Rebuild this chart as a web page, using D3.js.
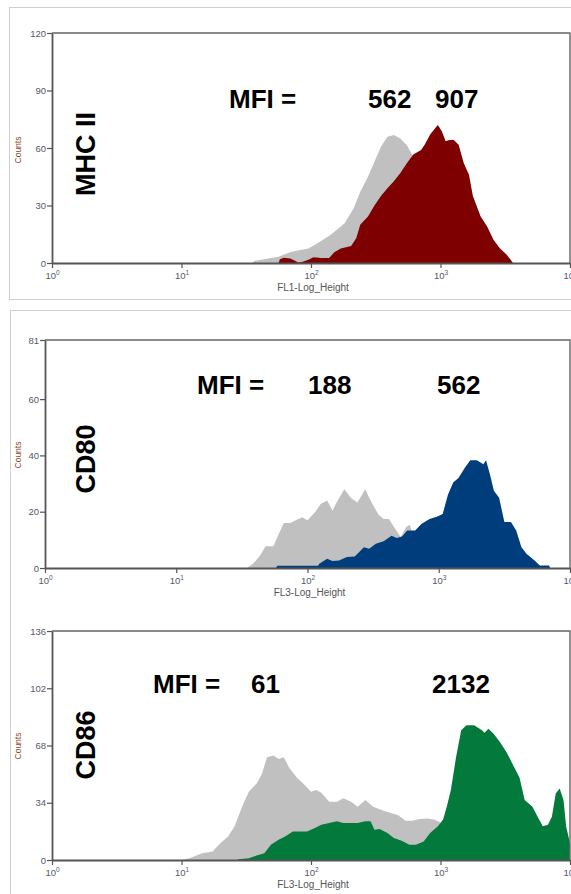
<!DOCTYPE html>
<html>
<head>
<meta charset="utf-8">
<script src="https://cdn.jsdelivr.net/npm/d3@7"></script>
<style>
  body { margin: 0; background: #fff; }
  svg { display: block; }
</style>
</head>
<body>
<svg id="chart" width="571" height="894"></svg>
<script>
// ---- data: histogram outlines, x in decades (log10 of channel), y in counts ----
const xTickValues = [1, 10, 100, 1000, 10000];

// MHC II
const mhcTicks = [0, 30, 60, 90, 120];
const mhcIsoDec = [1.55, 1.56, 1.75, 1.85, 1.98, 2.05, 2.15, 2.26, 2.33, 2.38, 2.44, 2.49, 2.54, 2.59, 2.64, 2.69, 2.74, 2.79, 2.84, 2.90, 2.95, 3.00, 3.05, 3.10, 3.20, 3.30, 3.40];
const mhcIsoCnt = [0, 1, 3.3, 5.9, 7.6, 10.3, 14.6, 20.8, 28.7, 37, 45, 52.8, 60.7, 65.9, 66.8, 65, 61.5, 55.5, 48, 38, 28, 20, 14, 9, 4, 1.5, 0];
const mhcDec = [1.75, 1.76, 1.79, 1.84, 1.88, 1.90, 1.93, 1.98, 2.02, 2.08, 2.14, 2.18, 2.23, 2.31, 2.35, 2.38, 2.44, 2.49, 2.54, 2.59, 2.64, 2.69, 2.74, 2.79, 2.85, 2.88, 2.92, 2.96, 2.98, 3.01, 3.04, 3.06, 3.10, 3.14, 3.18, 3.22, 3.25, 3.31, 3.36, 3.41, 3.46, 3.51, 3.56];
const mhcCnt = [0, 2, 2.8, 2.4, 1, 0.3, 0.5, 1.7, 3, 2.6, 2.6, 5.6, 7.6, 8.9, 13, 20, 24.3, 30, 35, 39, 42.6, 47, 52, 56.6, 59, 62, 67, 70.5, 72, 68.7, 63.5, 64, 64.3, 61.7, 52, 46, 35, 24.3, 19, 12, 7.6, 4.5, 0];

// CD80
const cd80Ticks = [0, 20, 40, 60, 81];
const cd80IsoDec = [1.54, 1.585, 1.64, 1.68, 1.74, 1.78, 1.82, 1.87, 1.91, 1.96, 2.00, 2.06, 2.10, 2.15, 2.19, 2.23, 2.28, 2.33, 2.38, 2.44, 2.48, 2.54, 2.58, 2.62, 2.66, 2.71, 2.75, 2.78, 2.80, 2.85, 2.90, 2.95, 3.00, 3.10, 3.15];
const cd80IsoCnt = [0, 1.5, 4.5, 7.7, 7.7, 12, 16, 16, 17, 18, 17, 20, 22.7, 24, 20.4, 24, 28, 25, 23.3, 28, 24, 19, 17.4, 17.4, 14.5, 11, 14.5, 15.4, 12, 9, 6, 4, 2, 0.5, 0];
const cd80Dec = [1.76, 1.77, 2.08, 2.09, 2.15, 2.19, 2.24, 2.30, 2.36, 2.43, 2.47, 2.52, 2.58, 2.64, 2.68, 2.72, 2.76, 2.82, 2.87, 2.93, 2.99, 3.03, 3.07, 3.11, 3.15, 3.20, 3.24, 3.29, 3.34, 3.36, 3.39, 3.42, 3.46, 3.50, 3.55, 3.59, 3.63, 3.67, 3.73, 3.77, 3.84, 3.85];
const cd80Cnt = [0, 0.8, 0.8, 1.5, 3.3, 2.5, 2.7, 3.9, 4.1, 7.4, 6.8, 8.6, 9.5, 11.5, 10.7, 11.2, 13.3, 13.3, 15.7, 17.4, 18.3, 19.2, 26, 30.4, 32, 35.7, 38.3, 38.3, 36.9, 38.3, 33.3, 27.4, 25, 16.3, 16.3, 13.3, 7.4, 5, 2.7, 0.9, 0.9, 0];

// CD86
const cd86Ticks = [0, 34, 68, 102, 136];
const cd86IsoDec = [1.00, 1.06, 1.16, 1.24, 1.30, 1.36, 1.41, 1.47, 1.52, 1.58, 1.62, 1.66, 1.71, 1.75, 1.79, 1.83, 1.89, 1.94, 2.00, 2.04, 2.08, 2.14, 2.20, 2.25, 2.31, 2.36, 2.42, 2.48, 2.55, 2.62, 2.67, 2.73, 2.78, 2.84, 2.90, 2.95, 2.99, 3.05, 3.10, 3.20, 3.30, 3.50, 3.70, 3.80, 3.90, 3.98];
const cd86IsoCnt = [0, 1, 4, 5, 10, 14, 20, 32, 40.5, 45.5, 51, 61, 62, 60, 61, 55, 49, 45.5, 40.5, 41.5, 40, 34.6, 34.6, 36.6, 34.6, 31.6, 35.6, 31.6, 29.6, 27.7, 26.7, 23.3, 23.3, 24.3, 24.7, 24, 22.7, 18, 14, 10, 8, 5, 3, 2, 1, 0];
const cd86Dec = [1.43, 1.44, 1.52, 1.58, 1.64, 1.69, 1.75, 1.80, 1.86, 1.92, 1.97, 2.03, 2.08, 2.14, 2.20, 2.25, 2.31, 2.36, 2.42, 2.46, 2.49, 2.53, 2.59, 2.64, 2.70, 2.76, 2.81, 2.87, 2.92, 2.98, 3.02, 3.05, 3.08, 3.12, 3.16, 3.20, 3.26, 3.32, 3.34, 3.37, 3.41, 3.46, 3.51, 3.57, 3.61, 3.65, 3.71, 3.75, 3.79, 3.83, 3.86, 3.89, 3.92, 3.95, 3.97, 4.00, 4.001];
const cd86Cnt = [0, 0.5, 1, 2.6, 4, 9, 12, 14, 17, 17, 17, 19, 21, 22, 23, 22, 22, 22, 23, 23, 18, 18.4, 16, 13, 11.5, 9, 9, 11, 16, 20, 24, 32, 41.5, 61, 77, 80, 80, 77, 75.5, 78, 75, 70, 64, 55, 49, 35.6, 31.6, 25.7, 20, 21, 25.7, 39.5, 42.5, 35.6, 20, 10, 0];

const panels = [
  { label: "MHC II", axisTitle: "FL1-Log_Height", ticks: mhcTicks, max: 120,
    iso: [mhcIsoDec, mhcIsoCnt], stain: [mhcDec, mhcCnt], color: "#7f0000",
    mfi: ["MFI =", "562", "907"],
    box: { x0: 52, x1: 570, y0: 33, y1: 263 },
    mfiX: [229, 368, 435], mfiY: 108, labelY: 154, countsY: 150 },
  { label: "CD80", axisTitle: "FL3-Log_Height", ticks: cd80Ticks, max: 81,
    iso: [cd80IsoDec, cd80IsoCnt], stain: [cd80Dec, cd80Cnt], color: "#003d7c",
    mfi: ["MFI =", "188", "562"],
    box: { x0: 45, x1: 570, y0: 340, y1: 568 },
    mfiX: [197, 308, 437], mfiY: 394, labelY: 459, countsY: 455 },
  { label: "CD86", axisTitle: "FL3-Log_Height", ticks: cd86Ticks, max: 136,
    iso: [cd86IsoDec, cd86IsoCnt], stain: [cd86Dec, cd86Cnt], color: "#037a3c",
    mfi: ["MFI =", "61", "2132"],
    box: { x0: 52, x1: 570, y0: 631, y1: 860 },
    mfiX: [153, 251, 432], mfiY: 693, labelY: 745, countsY: 746 }
];

const svg = d3.select("#chart");

// light grey panel frames
svg.append("rect").attr("x", 9.5).attr("y", 7.5).attr("width", 580).attr("height", 292)
  .attr("fill", "none").attr("stroke", "#cfcfcf").attr("stroke-width", 1);
svg.append("rect").attr("x", 10.5).attr("y", 310.5).attr("width", 580).attr("height", 600)
  .attr("fill", "none").attr("stroke", "#cfcfcf").attr("stroke-width", 1);

const tickColor = "#55586a";

panels.forEach((p, i) => {
  const b = p.box;
  const x = d3.scaleLog().domain([1, 10000]).range([b.x0, b.x1]);
  const y = d3.scaleLinear().domain([0, p.max]).range([b.y1, b.y0]);
  const g = svg.append("g");

  const clipId = "clip" + i;
  g.append("clipPath").attr("id", clipId).append("rect")
    .attr("x", b.x0).attr("y", b.y0).attr("width", b.x1 - b.x0).attr("height", b.y1 - b.y0);

  const area = d3.area()
    .x(d => x(Math.pow(10, d[0])))
    .y0(y(0))
    .y1(d => y(d[1]))
    .curve(d3.curveLinear);

  const isoPts = d3.zip(p.iso[0], p.iso[1]);
  const stainPts = d3.zip(p.stain[0], p.stain[1]);
  const plot = g.append("g").attr("clip-path", `url(#${clipId})`);
  plot.append("path").datum(isoPts).attr("d", area).attr("fill", "#c0c0c0");
  plot.append("path").datum(stainPts).attr("d", area).attr("fill", p.color);

  // frame top/right
  g.append("path")
    .attr("d", `M${b.x0},${b.y0}H${b.x1}V${b.y1}`)
    .attr("fill", "none").attr("stroke", "#666").attr("stroke-width", 1.4);

  // x axis
  const xAxis = g.append("g").attr("transform", `translate(0,${b.y1})`)
    .call(d3.axisBottom(x).tickValues(xTickValues).tickSize(5).tickSizeOuter(0).tickFormat(""));
  xAxis.select(".domain").attr("stroke", "#555").attr("stroke-width", 1.8);
  xAxis.selectAll(".tick line").attr("stroke", "#555").attr("stroke-width", 1.2);
  xAxis.selectAll(".tick").each(function (d) {
    const t = d3.select(this).append("text")
      .attr("y", 16).attr("fill", tickColor)
      .attr("font-family", "Liberation Sans, Arial, sans-serif").attr("font-size", 9.5)
      .attr("text-anchor", "middle");
    t.append("tspan").text("10");
    t.append("tspan").attr("dy", -4).attr("font-size", 6.5).text(Math.round(Math.log10(d)));
  });

  // y axis
  const yAxis = g.append("g").attr("transform", `translate(${b.x0},0)`)
    .call(d3.axisLeft(y).tickValues(p.ticks).tickSize(5).tickSizeOuter(0));
  yAxis.select(".domain").attr("stroke", "#555").attr("stroke-width", 1.8);
  yAxis.selectAll(".tick line").attr("stroke", "#555").attr("stroke-width", 1.2);
  yAxis.selectAll(".tick text").attr("fill", tickColor)
    .attr("font-family", "Liberation Sans, Arial, sans-serif").attr("font-size", 9.5).attr("x", -6);

  // axis titles
  g.append("text").attr("x", (b.x0 + b.x1) / 2 + 2).attr("y", b.y1 + 28)
    .attr("text-anchor", "middle").attr("fill", "#555")
    .attr("font-family", "Liberation Sans, Arial, sans-serif").attr("font-size", 10)
    .text(p.axisTitle);
  g.append("text").attr("transform", `translate(21,${p.countsY}) rotate(-90)`)
    .attr("text-anchor", "middle").attr("fill", "#8a4a2a")
    .attr("font-family", "Liberation Sans, Arial, sans-serif").attr("font-size", 8.5)
    .text("Counts");

  // marker name
  g.append("text").attr("transform", `translate(95,${p.labelY}) rotate(-90)`)
    .attr("text-anchor", "middle").attr("fill", "#000")
    .attr("font-family", "Liberation Sans, Arial, sans-serif").attr("font-weight", "bold")
    .attr("font-size", 27).text(p.label);

  // MFI annotations
  p.mfi.forEach((s, k) => {
    g.append("text").attr("x", p.mfiX[k]).attr("y", p.mfiY)
      .attr("fill", "#000").attr("font-family", "Liberation Sans, Arial, sans-serif")
      .attr("font-weight", "bold").attr("font-size", 26).text(s);
  });
});
</script>
</body>
</html>
